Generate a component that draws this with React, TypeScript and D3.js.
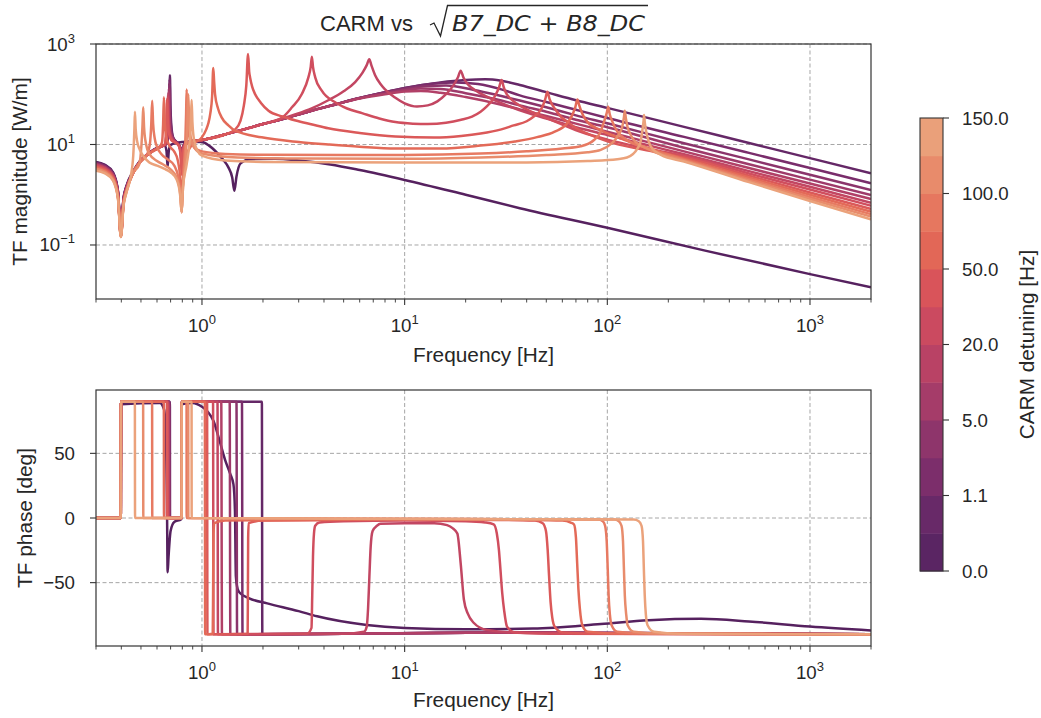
import React from "react";
import * as d3 from "d3";

type P = [number, number];

// ---------------- data ----------------
const DETUNING = [0, 0.5, 1.1, 2, 5, 10, 20, 30, 50, 70, 100, 120, 150];
const CBAR_TICK_INDEX = [0, 2, 4, 6, 8, 10, 12];
const FREQ_MAJOR = [1, 10, 100, 1000];
const MAG_TICKS: [number, string][] = [[1000, "3"], [10, "1"], [0.1, "\u22121"]];
const PHASE_TICKS = [-50, 0, 50];

const BAND_COLORS = ["#5a2563", "#682968", "#7c2e6b", "#8e356b", "#a53c69", "#b94265",
  "#cb4a60", "#d9545a", "#e26757", "#e6775f", "#e88b6b", "#eaa07a"];
const CURVE_COLORS = ["#56215f", "#652867", "#792d6b", "#8b346b", "#9e3a6a", "#b14067",
  "#c24662", "#d04e5e", "#db5959", "#e36a58", "#e77a62", "#e88c6c", "#eba27b"];

const magC0: P[] = [[0.3,4.5],[0.33,4.0],[0.364,2.8],[0.385,1.2],[0.398,0.17],[0.41,0.85],[0.424,1.5],[0.457,2.9],[0.494,4.7],[0.553,7.0],[0.62,9.0],[0.655,9.6],[0.668,7.5],[0.677,3.6],[0.686,7.5],[0.7,9.8],[0.75,10.8],[0.85,11.4],[1.0,11.2],[1.08,9.6],[1.16,7.5],[1.27,5.0],[1.35,3.5],[1.41,2.2],[1.445,1.2],[1.48,2.3],[1.55,4.2],[1.73,5.1],[2.3,5.2],[3.0,4.8],[4.3,4.0],[6.0,3.1],[10,1.97],[20,1.0],[37,0.54],[100,0.22],[300,0.078],[1000,0.0263],[2000,0.0144]];
const magC1: P[] = [[0.3,4.4],[0.33,3.9],[0.364,2.7],[0.385,1.15],[0.398,0.17],[0.41,0.83],[0.424,1.45],[0.457,2.8],[0.494,4.6],[0.553,6.9],[0.62,9.0],[0.67,10.4],[0.685,18],[0.691,60],[0.695,240],[0.699,60],[0.706,24],[0.72,14],[0.75,11.2],[0.775,9.5],[0.788,7.5],[0.794,6.5],[0.8,8],[0.83,10.8],[0.9,11.8],[1.0,12.3],[1.4,17.2],[2.0,25.5],[2.5,32],[3.4,46],[4.5,62],[6,84],[8,110],[10,133],[15,172],[20,192],[25,198],[30,185],[37,153],[50,110],[70,76],[100,53.5],[239,22.4],[500,10.7],[1000,5.35],[2000,2.67]];
const magC2: P[] = [[0.3,4.3],[0.33,3.8],[0.364,2.65],[0.385,1.12],[0.398,0.16],[0.41,0.8],[0.424,1.42],[0.457,2.8],[0.494,4.6],[0.553,6.9],[0.62,9.0],[0.67,10.3],[0.684,18],[0.689,55],[0.693,200],[0.697,55],[0.704,22],[0.72,13.5],[0.75,11],[0.775,9.4],[0.788,7.4],[0.794,6.5],[0.8,8],[0.83,10.8],[0.9,11.8],[1.0,12.3],[1.4,17.2],[2.0,25.5],[2.5,32],[3.4,46],[4.5,62],[6,84],[8,110],[10,132],[14,163],[18,172],[23,160],[30,125],[37,95],[50,70],[70,49],[100,33.7],[239,14.2],[500,6.8],[1000,3.4],[2000,1.69]];
const magC3: P[] = [[0.3,4.2],[0.33,3.7],[0.364,2.6],[0.385,1.1],[0.398,0.16],[0.41,0.78],[0.424,1.4],[0.457,2.75],[0.494,4.55],[0.553,6.85],[0.62,8.95],[0.665,10.2],[0.681,17],[0.686,50],[0.69,165],[0.694,50],[0.701,20],[0.72,13],[0.75,10.9],[0.775,9.3],[0.788,7.2],[0.794,6.2],[0.8,7.8],[0.83,10.7],[0.9,11.7],[1.0,12.3],[1.4,17.2],[2.0,25.5],[2.5,32],[3.4,46],[4.5,62],[6,84],[8,108],[10,127],[13,146],[16,150],[22,122],[30,92],[37,75],[50,55],[70,38],[100,26.4],[239,10.6],[500,5.05],[1000,2.5],[2000,1.24]];
const magC4: P[] = [[0.3,4.1],[0.33,3.6],[0.364,2.5],[0.385,1.07],[0.398,0.16],[0.41,0.76],[0.424,1.37],[0.457,2.75],[0.494,4.55],[0.553,6.85],[0.62,8.9],[0.662,10.1],[0.678,17],[0.683,45],[0.687,130],[0.691,45],[0.698,19],[0.72,12.8],[0.75,10.8],[0.775,9.2],[0.788,7],[0.794,6],[0.8,7.6],[0.83,10.6],[0.9,11.7],[1.0,12.3],[1.4,17.2],[2.0,25.5],[2.5,32],[3.4,46],[4.5,62],[6,83],[8,104],[10,120],[12,130],[15,127],[20,105],[30,75],[37,60],[50,45],[70,31],[100,22],[239,8.6],[500,4.05],[1000,2.0],[2000,0.99]];
const magC5: P[] = [[0.3,4.0],[0.33,3.5],[0.364,2.45],[0.385,1.05],[0.398,0.155],[0.41,0.74],[0.424,1.34],[0.457,2.7],[0.494,4.5],[0.553,6.8],[0.62,8.9],[0.66,10],[0.675,17],[0.68,40],[0.684,110],[0.688,40],[0.695,18],[0.72,12.5],[0.75,10.7],[0.775,9.1],[0.788,6.8],[0.794,5.6],[0.8,7.4],[0.83,10.5],[0.9,11.6],[1.0,12.3],[1.4,17.2],[2.0,25.5],[2.5,32],[3.4,46],[4.5,62],[6,82],[8,100],[10,113],[12,116],[15,107],[20,88],[30,62],[37,50],[50,37],[70,26],[100,17.9],[239,7.3],[500,3.4],[1000,1.67],[2000,0.82]];
const magC6: P[] = [[0.3,3.9],[0.33,3.45],[0.364,2.4],[0.385,1.02],[0.398,0.155],[0.41,0.72],[0.424,1.3],[0.457,2.7],[0.494,4.5],[0.553,6.8],[0.62,8.9],[0.658,10],[0.672,17],[0.677,38],[0.68,95],[0.684,38],[0.692,17],[0.72,12],[0.75,10.6],[0.775,9],[0.788,6],[0.794,4],[0.8,6],[0.82,9.5],[0.87,11.3],[1.0,12.3],[1.4,17.2],[2.0,25.5],[2.5,33],[2.9,40],[3.5,53],[4.2,76],[5.0,115],[5.7,175],[6.2,270],[6.5,380],[6.69,500],[6.85,380],[7.15,240],[7.6,160],[8.0,125],[9.0,85],[10,66],[11.5,57],[13,60],[14.5,72],[16,100],[17.3,145],[18.3,215],[18.9,295],[19.5,215],[20.3,165],[21.5,133],[23.5,105],[27,80],[33,57],[40,43],[50,33],[70,22],[100,15.5],[150,10.2],[239,6.4],[500,2.95],[1000,1.44],[2000,0.695]];
const magC7: P[] = [[0.3,3.8],[0.33,3.35],[0.364,2.33],[0.385,1.0],[0.398,0.15],[0.41,0.7],[0.424,1.27],[0.457,2.7],[0.494,4.5],[0.553,6.8],[0.62,8.9],[0.655,10],[0.668,18],[0.673,45],[0.676,85],[0.68,40],[0.69,18],[0.71,12.5],[0.74,11],[0.77,9.5],[0.786,6],[0.794,3],[0.802,6],[0.82,9.5],[0.87,11.3],[1.0,12.3],[1.4,17.2],[2.0,25.5],[2.48,34],[2.78,55],[3.11,101],[3.35,217],[3.44,350],[3.485,558],[3.53,350],[3.62,217],[3.9,118],[4.54,69],[5.2,52],[6.16,42],[7.5,33],[9,28],[11,26],[13,25.5],[16,27],[19,31],[21.5,36],[23.7,45],[25.5,58],[27,75],[28.2,100],[29.2,135],[30.1,192],[30.8,140],[31.5,110],[33,85],[35.5,66],[40,50],[50,34],[60,25],[75,17.5],[100,12.5],[150,8.6],[239,5.9],[500,2.65],[1000,1.27],[2000,0.605]];
const magC8: P[] = [[0.3,3.6],[0.33,3.2],[0.364,2.22],[0.385,0.96],[0.398,0.15],[0.41,0.68],[0.424,1.24],[0.457,2.7],[0.494,4.5],[0.553,6.8],[0.62,8.9],[0.655,10],[0.665,17],[0.669,40],[0.672,78],[0.676,38],[0.686,17],[0.705,12.3],[0.74,10.8],[0.77,9.2],[0.786,5.5],[0.794,2.5],[0.802,5.5],[0.82,9.3],[0.87,11.2],[1.0,12.3],[1.3,15.8],[1.45,19.5],[1.55,30],[1.61,60],[1.655,150],[1.688,632],[1.71,280],[1.727,217],[1.77,140],[1.83,100],[1.95,68],[2.13,47],[2.5,36],[2.9,30],[3.5,25],[4.2,21],[6,17],[9,14.5],[14,13.8],[19,14.8],[23.7,16.5],[30,20],[34.5,24],[40,29],[43.4,36],[46,44],[47.7,55],[49.4,80],[50.6,112],[51.8,82],[53,66],[55,52],[59,36],[63,29],[68.5,22.5],[82.5,15.5],[101,11.4],[150,7.9],[239,5.5],[500,2.4],[1000,1.11],[2000,0.52]];
const magC9: P[] = [[0.3,3.5],[0.33,3.1],[0.364,2.15],[0.385,0.93],[0.398,0.148],[0.41,0.66],[0.424,1.2],[0.457,2.7],[0.494,4.5],[0.553,6.8],[0.615,8.8],[0.635,11],[0.643,25],[0.649,87],[0.655,28],[0.665,15],[0.69,9.5],[0.73,7.2],[0.76,4.8],[0.783,1.9],[0.794,0.6],[0.805,1.9],[0.83,5.5],[0.87,8.5],[0.93,11],[1.0,14],[1.05,20],[1.075,26.4],[1.1,42],[1.122,90],[1.137,333],[1.148,180],[1.16,101],[1.2,52],[1.25,34.7],[1.35,24],[1.46,18.8],[1.97,13.9],[3.0,11.2],[4.2,10],[6,9],[9,8.3],[15,8.3],[23.7,9.5],[35,11.5],[45,14],[55,18],[63.3,26.3],[67,38],[69.5,55],[71.2,79],[72.5,62],[74,48.6],[76.5,36],[79.7,28.2],[92.8,19.4],[116,13.3],[160,8.4],[239,5.2],[500,2.2],[1000,1.0],[2000,0.46]];
const magC10: P[] = [[0.3,3.3],[0.33,2.95],[0.364,2.05],[0.385,0.9],[0.398,0.146],[0.41,0.64],[0.424,1.17],[0.457,2.7],[0.494,4.4],[0.535,6.2],[0.553,10],[0.562,25],[0.568,74],[0.574,26],[0.585,13],[0.6,9],[0.63,6.5],[0.68,5.0],[0.73,3.8],[0.765,2.2],[0.785,1.0],[0.794,0.45],[0.803,1.3],[0.815,4],[0.828,12],[0.835,40],[0.84,125],[0.846,45],[0.855,20],[0.875,12],[0.92,8.5],[1.0,7.3],[1.3,6.5],[2,6.25],[5,6.2],[10,6.2],[23.7,6.6],[40,7.3],[60,8.3],[73.9,9.2],[86,12.3],[92,17],[96.3,28.2],[99.3,42],[101,56.5],[102.8,40],[106,28.2],[112,18],[125,12.3],[160,8.2],[239,5.0],[500,2.05],[1000,0.9],[2000,0.41]];
const magC11: P[] = [[0.3,3.2],[0.33,2.85],[0.364,1.98],[0.385,0.87],[0.398,0.145],[0.41,0.62],[0.424,1.14],[0.457,2.7],[0.49,4.0],[0.503,10],[0.509,25],[0.513,55],[0.518,22],[0.53,10],[0.55,6.5],[0.6,4.7],[0.65,3.9],[0.7,3.2],[0.75,2.2],[0.78,1.1],[0.794,0.45],[0.806,1.4],[0.83,5],[0.845,20],[0.856,100],[0.864,30],[0.88,14],[0.92,8.5],[1.0,6.6],[1.5,5.5],[3,5.25],[10,5.2],[23.7,5.5],[50,6.2],[80,7.0],[92.8,7.8],[105,10.5],[113,15],[118.5,22.5],[120.8,35],[121.9,47],[123.5,33],[125.7,22.5],[130,16],[135,12.3],[160,8.0],[239,4.8],[500,1.9],[1000,0.82],[2000,0.366]];
const magC12: P[] = [[0.3,3.0],[0.33,2.7],[0.364,1.9],[0.385,0.84],[0.398,0.144],[0.41,0.6],[0.424,1.1],[0.445,2.3],[0.458,6],[0.464,20],[0.467,45],[0.471,20],[0.48,11],[0.494,7.8],[0.52,5.5],[0.55,4.4],[0.6,3.8],[0.65,3.3],[0.7,2.8],[0.75,2.0],[0.78,1.0],[0.794,0.45],[0.806,1.4],[0.84,4],[0.87,12],[0.882,30],[0.889,77],[0.897,28],[0.915,12],[0.95,7.5],[1.0,6.0],[1.3,4.8],[2,4.5],[10,4.4],[40,4.4],[80,4.7],[112,5.1],[125,5.5],[141,8.4],[146,11.5],[149,19.4],[151,30],[151.8,38.6],[153,28],[155,19.4],[159,12.5],[164,9.1],[184,6.2],[239,4.6],[500,1.78],[1000,0.75],[2000,0.324]];

const phC0: P[] = [[0.3,0],[0.396,0],[0.4,88],[0.62,89],[0.65,84],[0.665,60],[0.672,10],[0.677,-42],[0.684,-30],[0.7,-10],[0.73,-3],[0.79,-1],[0.794,88],[0.9,89],[1.0,86],[1.07,82],[1.14,75],[1.22,60],[1.3,45],[1.38,34],[1.43,26],[1.455,5],[1.47,-45],[1.5,-55],[1.54,-58],[1.7,-62],[2.1,-66],[3.0,-72],[3.7,-76],[6.5,-82.7],[10,-85],[20,-86],[43,-85.5],[93,-82],[160,-79],[290,-78],[500,-80],[1000,-84],[2000,-87]];
const phC1: P[] = [[0.3,0],[0.3975,0],[0.3985,90],[0.6945,90],[0.6955,0],[0.7935,0],[0.7945,90],[1.975,90],[1.985,-90],[5,-89.5],[30,-88.5],[200,-89.2],[2000,-90]];
const phC2: P[] = [[0.3,0],[0.3975,0],[0.3985,90],[0.6925,90],[0.6935,0],[0.7935,0],[0.7945,90],[1.575,90],[1.585,-90],[5,-89.5],[30,-88.5],[200,-89.2],[2000,-90]];
const phC3: P[] = [[0.3,0],[0.3975,0],[0.3985,90],[0.6895,90],[0.6905,0],[0.7935,0],[0.7945,90],[1.48,90],[1.49,-90],[5,-89.5],[30,-88.5],[200,-89.2],[2000,-90]];
const phC4: P[] = [[0.3,0],[0.3975,0],[0.3985,90],[0.6865,90],[0.6875,0],[0.7935,0],[0.7945,90],[1.37,90],[1.38,-90],[5,-89.5],[30,-88.5],[200,-89.2],[2000,-90]];
const phC5: P[] = [[0.3,0],[0.3975,0],[0.3985,90],[0.6835,90],[0.6845,0],[0.7935,0],[0.7945,90],[1.245,90],[1.255,-90],[5,-89.5],[30,-88.5],[200,-89.2],[2000,-90]];
const phC6: P[] = [[0.3,0],[0.3975,0],[0.3985,90],[0.6795,90],[0.6805,0],[0.7935,0],[0.7945,90],[1.193,90],[1.199,-90],[5,-89.5],[6.3,-88],[6.5,-84],[6.6,-70],[6.7,-45],[6.8,-22],[6.95,-10],[7.3,-6],[7.6,-4.5],[10,-4],[14,-4],[16.2,-5.5],[17.3,-8],[18.2,-12],[18.9,-35],[19.6,-63],[20.5,-74],[21.9,-81],[25.5,-86.6],[40,-89],[2000,-90]];
const phC7: P[] = [[0.3,0],[0.3975,0],[0.3985,90],[0.6755,90],[0.6765,0],[0.7935,0],[0.7945,90],[1.134,90],[1.14,-90],[3.3,-89.5],[3.47,-85],[3.5,-60],[3.53,-30],[3.57,-12],[3.62,-6],[3.8,-3.5],[5,-2.5],[10,-2],[20,-2.5],[25,-3.5],[27.5,-5],[28.5,-12],[29.2,-25],[29.7,-40],[30.3,-58],[31,-72],[32,-84],[35,-88.5],[60,-89.5],[2000,-90]];
const phC8: P[] = [[0.3,0],[0.3975,0],[0.3985,90],[0.6715,90],[0.6725,0],[0.7935,0],[0.7945,90],[1.06,90],[1.064,-90],[1.68,-89.5],[1.685,-60],[1.69,-15],[1.7,-4],[2,-2],[10,-1.2],[30,-1.5],[44,-2],[48,-4],[49.8,-10],[50.8,-25],[51.6,-45],[52.5,-65],[53.5,-77],[55,-84],[60,-88.5],[100,-89.5],[2000,-90]];
const phC9: P[] = [[0.3,0],[0.3975,0],[0.3985,90],[0.6485,90],[0.6495,0],[0.7935,0],[0.7945,90],[1.033,90],[1.037,-90],[1.13,-89.5],[1.135,-55],[1.14,-12],[1.15,-4],[1.3,-2],[10,-1],[40,-1.5],[60,-2],[66,-3.5],[68.5,-5],[70,-15],[71,-35],[72,-55],[73.2,-70],[75.3,-83],[80,-88],[120,-89.5],[2000,-90]];
const phC10: P[] = [[0.3,0],[0.3975,0],[0.3985,90],[0.5675,90],[0.5685,0],[0.7935,0],[0.7945,90],[0.8395,90],[0.8405,0],[5,-0.5],[50,-1],[90,-1.2],[95,-2.5],[97.5,-6],[99.3,-18],[100.5,-40],[101.5,-60],[103,-75],[105,-83],[112,-88],[160,-89.5],[2000,-90]];
const phC11: P[] = [[0.3,0],[0.3975,0],[0.3985,90],[0.5125,90],[0.5135,0],[0.7935,0],[0.7945,90],[0.8555,90],[0.8565,0],[5,-0.5],[50,-1],[108,-1.2],[114,-2.5],[117.5,-6],[119.5,-18],[120.8,-40],[122,-60],[124,-75],[126,-83],[135,-88],[190,-89.5],[2000,-90]];
const phC12: P[] = [[0.3,0],[0.3975,0],[0.3985,90],[0.4665,90],[0.4675,0],[0.7935,0],[0.7945,90],[0.8885,90],[0.8895,0],[5,-0.5],[50,-1],[135,-1.2],[143,-2.5],[147.5,-6],[150,-18],[151.5,-40],[153,-60],[155,-75],[158,-83],[170,-88],[230,-89.5],[2000,-90]];

const MAG = [magC0, magC1, magC2, magC3, magC4, magC5, magC6, magC7, magC8, magC9, magC10, magC11, magC12];
const PHASE = [phC0, phC1, phC2, phC3, phC4, phC5, phC6, phC7, phC8, phC9, phC10, phC11, phC12];

// ---------------- layout ----------------
const W = 1041, H = 718;
const X0 = 96, X1 = 871;
const TOP = { y0: 44, y1: 299 };
const BOT = { y0: 390, y1: 646 };
const CB = { x0: 920, x1: 943, y0: 118, y1: 571 };
const FONT = "'Liberation Sans', Arial, sans-serif";
const TXT = "#262626";
const SPINE = "#333333";
const GRID = "#a6a6a6";
const LW = 2.5;

const x = d3.scaleLog().domain([0.3, 2000]).range([X0, X1]);
const yMag = d3.scaleLog().domain([Math.pow(10, -2.075), 1000]).range([TOP.y1, TOP.y0]);
const yPh = d3.scaleLinear().domain([-99, 99]).range([BOT.y1, BOT.y0]);
const yCb = d3.scaleLinear().domain([0, 12]).range([CB.y1, CB.y0]);

const magLine = d3.line<P>().x(d => x(d[0])).y(d => yMag(d[1])).curve(d3.curveMonotoneX);
const phLine = d3.line<P>().x(d => x(d[0])).y(d => yPh(d[1])).curve(d3.curveMonotoneX);

const xTicksAll = x.ticks();
const isMajor = (v: number) => Math.abs(Math.log10(v) - Math.round(Math.log10(v))) < 1e-6;

function XAxis({ y1, labelY }: { y1: number; labelY: number }) {
  return (
    <g>
      {xTicksAll.map((t, i) => {
        const major = isMajor(t);
        return <line key={i} x1={x(t)} x2={x(t)} y1={y1} y2={y1 + (major ? 6 : 3.5)} stroke={SPINE} strokeWidth={major ? 1.1 : 0.9} />;
      })}
      {FREQ_MAJOR.map(t => (
        <text key={t} x={x(t)} y={y1 + 33} textAnchor="middle" fontFamily={FONT} fontSize={18.7} fill={TXT}>
          10<tspan dy={-8} fontSize={13}>{Math.round(Math.log10(t))}</tspan>
        </text>
      ))}
      <text x={(X0 + X1) / 2} y={labelY} textAnchor="middle" fontFamily={FONT} fontSize={20.8} fill={TXT}>Frequency [Hz]</text>
    </g>
  );
}

function Frame({ y0, y1 }: { y0: number; y1: number }) {
  return <rect x={X0} y={y0} width={X1 - X0} height={y1 - y0} fill="none" stroke={SPINE} strokeWidth={1.2} />;
}

export default function App() {
  return (
    <svg width={W} height={H} viewBox={`0 0 ${W} ${H}`}
      style={{ display: "block", position: "absolute", left: 0, top: 0, background: "#fff" }}>
      <defs>
        <clipPath id="clipTop"><rect x={X0} y={TOP.y0} width={X1 - X0} height={TOP.y1 - TOP.y0} /></clipPath>
        <clipPath id="clipBot"><rect x={X0} y={BOT.y0} width={X1 - X0} height={BOT.y1 - BOT.y0} /></clipPath>
      </defs>
      <rect width={W} height={H} fill="#fff" />

      {/* Title */}
      <g fill={TXT}>
        <text x={320} y={31} fontFamily={FONT} fontSize={22}>CARM vs</text>
        <path d="M430,25 L434,23 L440.5,36 L447.5,5.5 L648,5.5" fill="none" stroke={TXT} strokeWidth={1.3} />
        <text x={452} y={31} fontFamily="'DejaVu Sans', sans-serif" fontStyle="italic" fontSize={22}
          textLength={193} lengthAdjust="spacingAndGlyphs">B7_DC + B8_DC</text>
      </g>

      {/* ---------- Top: magnitude ---------- */}
      <g>
        {FREQ_MAJOR.map(t => (
          <line key={t} x1={x(t)} x2={x(t)} y1={TOP.y0} y2={TOP.y1} stroke={GRID} strokeWidth={1} strokeDasharray="4,2.5" />
        ))}
        {MAG_TICKS.map(([v]) => (
          <line key={v} x1={X0} x2={X1} y1={yMag(v)} y2={yMag(v)} stroke={GRID} strokeWidth={1} strokeDasharray="4,2.5" />
        ))}
        <g clipPath="url(#clipTop)">
          {MAG.map((d, i) => (
            <path key={i} d={magLine(d) || ""} fill="none" stroke={CURVE_COLORS[i]} strokeWidth={LW} strokeLinejoin="round" />
          ))}
        </g>
        <Frame y0={TOP.y0} y1={TOP.y1} />
        {MAG_TICKS.map(([v, e]) => (
          <g key={v}>
            <line x1={X0 - 6} x2={X0} y1={yMag(v)} y2={yMag(v)} stroke={SPINE} strokeWidth={1.1} />
            <text x={75} y={yMag(v) + 6.5} textAnchor="end" fontFamily={FONT} fontSize={18.7} fill={TXT}>
              10<tspan dy={-8} fontSize={13}>{e}</tspan>
            </text>
          </g>
        ))}
        <XAxis y1={TOP.y1} labelY={362} />
        <text transform={`translate(27,${(TOP.y0 + TOP.y1) / 2}) rotate(-90)`} textAnchor="middle" fontFamily={FONT} fontSize={20.8} fill={TXT}>TF magnitude [W/m]</text>
      </g>

      {/* ---------- Bottom: phase ---------- */}
      <g>
        {FREQ_MAJOR.map(t => (
          <line key={t} x1={x(t)} x2={x(t)} y1={BOT.y0} y2={BOT.y1} stroke={GRID} strokeWidth={1} strokeDasharray="4,2.5" />
        ))}
        {PHASE_TICKS.map(v => (
          <line key={v} x1={X0} x2={X1} y1={yPh(v)} y2={yPh(v)} stroke={GRID} strokeWidth={1} strokeDasharray="4,2.5" />
        ))}
        <g clipPath="url(#clipBot)">
          {PHASE.map((d, i) => (
            <path key={i} d={phLine(d) || ""} fill="none" stroke={CURVE_COLORS[i]} strokeWidth={LW} strokeLinejoin="round" />
          ))}
        </g>
        <Frame y0={BOT.y0} y1={BOT.y1} />
        {PHASE_TICKS.map(v => (
          <g key={v}>
            <line x1={X0 - 6} x2={X0} y1={yPh(v)} y2={yPh(v)} stroke={SPINE} strokeWidth={1.1} />
            <text x={75} y={yPh(v) + 6.5} textAnchor="end" fontFamily={FONT} fontSize={18.7} fill={TXT}>
              {v < 0 ? `\u2212${Math.abs(v)}` : `${v}`}
            </text>
          </g>
        ))}
        <XAxis y1={BOT.y1} labelY={707} />
        <text transform={`translate(31.5,${(BOT.y0 + BOT.y1) / 2}) rotate(-90)`} textAnchor="middle" fontFamily={FONT} fontSize={20.8} fill={TXT}>TF phase [deg]</text>
      </g>

      {/* ---------- Colorbar ---------- */}
      <g>
        {BAND_COLORS.map((c, k) => (
          <rect key={k} x={CB.x0} y={yCb(k + 1)} width={CB.x1 - CB.x0} height={yCb(k) - yCb(k + 1) + 0.5} fill={c} />
        ))}
        <rect x={CB.x0} y={CB.y0} width={CB.x1 - CB.x0} height={CB.y1 - CB.y0} fill="none" stroke={SPINE} strokeWidth={1.1} />
        {CBAR_TICK_INDEX.map(k => (
          <g key={k}>
            <line x1={CB.x1} x2={CB.x1 + 6} y1={yCb(k)} y2={yCb(k)} stroke={SPINE} strokeWidth={1.1} />
            <text x={962} y={yCb(k) + 6.5} fontFamily={FONT} fontSize={18.7} fill={TXT}>{DETUNING[k].toFixed(1)}</text>
          </g>
        ))}
        <text transform={`translate(1034,${(CB.y0 + CB.y1) / 2}) rotate(-90)`} textAnchor="middle" fontFamily={FONT} fontSize={20.8} fill={TXT}>CARM detuning [Hz]</text>
      </g>
    </svg>
  );
}
